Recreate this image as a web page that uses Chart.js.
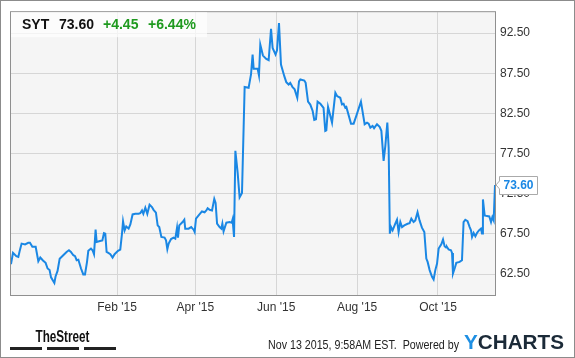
<!DOCTYPE html>
<html>
<head>
<meta charset="utf-8">
<script src="https://cdn.jsdelivr.net/npm/chart.js@4.4.1/dist/chart.umd.min.js"></script>
<style>
    html, body { margin: 0; padding: 0; background: #fff; }
    #wrap { width: 575px; height: 358px; }
</style>
</head>
<body>
<div id="wrap"><canvas id="chart" width="575" height="358"></canvas></div>
<script>
/* ============================
   Datos (días desde 13 nov 2014)
============================ */
const days = [
    0, 1.5, 4.0, 5.5, 6.5, 8.0, 10.6, 13.0, 14.3, 16.1, 18.6, 20.6, 22.1, 24.1, 26.1, 27.6, 29.1, 30.2, 32.7, 33.6,
    35.1, 36.7, 39.4, 41.9, 43.7, 45.2, 47.0, 48.3, 49.5, 50.8, 52.8, 54.5, 55.8, 57.3, 58.3, 60.3, 61.5, 62.6, 63.8, 64.6,
    67.1, 68.9, 70.1, 71.1, 72.1, 73.4, 74.9, 76.6, 78.1, 80.7, 82.4, 83.7, 84.5, 85.7, 86.9, 88.7, 90.0, 91.7, 93.7, 96.2,
    97.5, 98.8, 99.8, 101.3, 102.8, 104.5, 106.3, 107.5, 109.3, 110.6, 111.8, 113.4, 115.8, 116.9, 117.9, 118.9, 120.7, 122.6, 123.9, 125.2,
    125.9, 126.9, 129.4, 130.7, 131.4, 133.9, 135.9, 137.7, 138.5, 139.5, 141.5, 144.0, 146.0, 147.3, 148.3, 149.8, 151.6, 153.3, 154.3, 155.4,
    157.3, 158.6, 159.4, 160.3, 162.4, 164.9, 166.4, 167.1, 168.2, 169.2, 170.9, 172.4, 174.2, 176.2, 179.2, 181.0, 182.2, 183.0, 186.0, 187.0,
    188.0, 190.0, 192.5, 194.3, 196.1, 197.3, 199.5, 200.6, 202.1, 203.6, 206.1, 207.6, 209.4, 210.6, 212.2, 213.9, 215.9, 217.2, 218.2, 221.2,
    222.2, 224.0, 225.7, 227.5, 228.7, 230.0, 231.2, 233.3, 235.7, 237.0, 237.8, 239.1, 242.1, 244.6, 245.9, 248.3, 249.6, 250.8, 252.1, 252.9,
    256.4, 258.4, 260.4, 263.9, 266.7, 268.5, 269.7, 271.0, 272.7, 273.8, 276.0, 278.0, 279.3, 281.0, 282.3, 283.8, 284.8, 285.7, 286.6, 287.8,
    289.8, 291.1, 292.3, 293.6, 294.9, 296.6, 299.1, 300.6, 301.9, 303.6, 304.9, 306.6, 308.1, 309.9, 311.7, 313.2, 314.2, 315.7, 317.5, 318.7,
    320.0, 321.3, 322.5, 324.5, 325.8, 327.0, 328.1, 328.8, 330.0, 331.8, 332.6, 333.3, 334.8, 335.8, 338.3, 340.1, 341.3, 342.6, 344.3, 345.9,
    346.9, 347.7, 348.9, 350.2, 351.4, 352.9, 354.4, 355.2, 355.9, 357.2, 359.0, 360.7, 362.0, 363.0, 364.0, 365
]
const prices = [
    63.74, 65.14, 64.73, 64.64, 65.35, 66.30, 66.20, 66.40, 66.40, 65.90, 65.90, 64.10, 64.57, 64.20, 63.90, 63.20, 63.00, 62.10, 61.40, 62.20,
    62.90, 64.40, 64.85, 65.26, 65.47, 65.26, 64.85, 64.73, 64.23, 64.30, 63.20, 62.46, 62.46, 64.00, 65.40, 65.68, 65.47, 64.98, 68.03, 66.50,
    66.62, 66.70, 67.60, 67.54, 65.26, 65.14, 64.98, 64.56, 64.98, 65.40, 65.56, 67.54, 69.06, 67.95, 68.44, 68.16, 68.69, 69.93, 70.01, 70.01,
    70.09, 70.42, 70.00, 70.76, 70.00, 71.13, 70.84, 70.50, 70.14, 68.57, 68.36, 67.12, 67.04, 66.70, 65.60, 66.30, 66.87, 67.04, 66.92, 68.28,
    67.04, 68.57, 68.98, 69.27, 68.16, 68.16, 68.36, 68.03, 67.74, 69.40, 69.80, 70.30, 70.20, 70.42, 70.70, 70.50, 70.42, 71.86, 71.37, 68.78,
    68.36, 68.16, 68.78, 67.82, 68.90, 68.98, 68.90, 69.31, 67.12, 77.85, 75.17, 72.07, 72.61, 85.80, 85.70, 87.35, 89.83, 88.05, 88.05, 87.22,
    91.06, 89.70, 89.28, 89.12, 93.04, 90.64, 89.83, 90.36, 93.74, 88.59, 87.14, 86.40, 86.10, 86.30, 85.81, 85.50, 84.45, 86.50, 86.73, 86.60,
    86.31, 83.96, 83.60, 82.80, 81.70, 81.77, 83.96, 83.70, 83.20, 80.33, 80.40, 83.30, 81.36, 85.07, 84.66, 84.45, 83.63, 83.70, 83.20, 83.30,
    81.23, 81.23, 82.19, 83.96, 81.16, 81.36, 81.23, 80.73, 80.94, 80.66, 81.16, 80.82, 80.33, 76.60, 78.47, 81.36, 78.26, 67.54, 68.36, 67.95,
    68.77, 69.27, 67.74, 68.98, 68.36, 68.57, 68.77, 68.85, 69.40, 68.98, 69.19, 70.20, 69.19, 68.28, 67.74, 64.44, 64.02, 63.00, 62.17, 61.84,
    63.00, 63.82, 65.68, 66.20, 66.80, 65.97, 65.80, 65.88, 65.56, 65.47, 65.14, 62.58, 63.33, 63.90, 64.02, 64.23, 68.98, 69.27, 69.10, 68.36,
    67.95, 67.12, 67.62, 67.20, 67.62, 67.95, 68.16, 67.54, 71.79, 69.80, 69.72, 69.68, 68.98, 69.60, 69.19, 73.60
]

const tickDays = [80, 139, 200, 261, 322]
const tickLabels = ["Feb '15", "Apr '15", "Jun '15", "Aug '15", "Oct '15"]
const yTicks = [62.5, 67.5, 72.5, 77.5, 82.5, 87.5, 92.5]

const TICKER = 'SYT'
const LAST = '73.60'
const CHANGE = '+4.45'
const CHANGE_PCT = '+6.44%'
const STAMP = 'Nov 13 2015, 9:58AM EST.  Powered by'

const FONT = '"Liberation Sans", Arial, sans-serif'
const LINE_BLUE = '#1a87e4'
const UP_GREEN = '#1f9a1f'

// ============================
// Dibujos extra (fondo, marco, cabecera, pie)
// ============================
function fitText(ctx, text, x, y, width) {
    const w = ctx.measureText(text).width
    ctx.save()
    ctx.translate(x, y)
    ctx.scale(width / w, 1)
    ctx.fillText(text, 0, 0)
    ctx.restore()
}

const decorPlugin = {
    id: 'decor',
    beforeDraw(chart) {
        const { ctx, chartArea: a } = chart
        ctx.save()
        ctx.fillStyle = '#fff'
        ctx.fillRect(0, 0, chart.width, chart.height)
        ctx.fillStyle = '#f5f5f5'
        ctx.fillRect(a.left, a.top, a.right - a.left, a.bottom - a.top)
        ctx.restore()
    },
    afterDraw(chart) {
        const { ctx, chartArea: a } = chart
        ctx.save()

        // marco del área
        ctx.strokeStyle = '#8f8f8f'
        ctx.lineWidth = 1
        ctx.strokeRect(a.left - 0.5, a.top - 0.5, a.right - a.left + 1, a.bottom - a.top + 1)

        // marco exterior
        ctx.strokeStyle = '#8c8c8c'
        ctx.strokeRect(0.5, 0.5, chart.width - 1, chart.height - 1)

        // cabecera
        ctx.fillStyle = 'rgba(255,255,255,0.7)'
        ctx.fillRect(a.left, a.top, 196, 25)
        ctx.font = `bold 14px ${FONT}`
        ctx.textBaseline = 'alphabetic'
        ctx.textAlign = 'left'
        ctx.fillStyle = '#111'
        ctx.fillText(TICKER, 22, 28.5)
        ctx.fillText(LAST, 59, 28.5)
        ctx.fillStyle = UP_GREEN
        ctx.fillText(CHANGE, 103, 28.5)
        ctx.fillText(CHANGE_PCT, 148, 28.5)

        // etiqueta del último valor
        const py = chart.scales.y.getPixelForValue(prices[prices.length - 1])
        const bx = a.right + 4.5, bw = 38, bh = 18, top = Math.round(py - bh / 2) + 0.5
        ctx.beginPath()
        ctx.moveTo(a.right + 1, py)
        ctx.lineTo(bx, py - 4)
        ctx.lineTo(bx, top)
        ctx.lineTo(bx + bw, top)
        ctx.lineTo(bx + bw, top + bh)
        ctx.lineTo(bx, top + bh)
        ctx.lineTo(bx, py + 4)
        ctx.closePath()
        ctx.fillStyle = '#fff'
        ctx.fill()
        ctx.strokeStyle = '#aaa'
        ctx.stroke()
        ctx.font = `bold 12px ${FONT}`
        ctx.fillStyle = LINE_BLUE
        ctx.textAlign = 'center'
        ctx.textBaseline = 'middle'
        ctx.fillText(LAST, bx + bw / 2, top + bh / 2 + 0.5)

        // pie: TheStreet
        ctx.textAlign = 'left'
        ctx.textBaseline = 'alphabetic'
        ctx.fillStyle = '#111'
        ctx.font = `bold 16px ${FONT}`
        fitText(ctx, 'TheStreet', 35.5, 342, 54)
        ctx.fillStyle = '#222'
        ctx.fillRect(10, 347, 32, 3)
        ctx.fillRect(47, 347, 32, 3)
        ctx.fillRect(84, 347, 32, 3)

        // pie: fecha y YCHARTS
        ctx.font = `12px ${FONT}`
        ctx.fillStyle = '#222'
        fitText(ctx, STAMP, 268, 348.5, 191)
        ctx.font = `900 20px ${FONT}`
        const yW = ctx.measureText('Y').width
        const allW = ctx.measureText('YCHARTS').width
        ctx.save()
        ctx.translate(464, 349)
        ctx.scale(100 / allW, 1)
        ctx.fillStyle = '#1e8fe3'
        ctx.fillText('Y', 0, 0)
        ctx.fillStyle = '#1b2a38'
        ctx.fillText('CHARTS', yW, 0)
        ctx.restore()

        ctx.restore()
    }
}

// ============================
// Gráfico
// ============================
const ctxChart = document.getElementById('chart').getContext('2d')
new Chart(ctxChart, {
    type: 'line',
    data: {
        datasets: [{
            label: TICKER,
            data: days.map((d, i) => ({ x: d, y: prices[i] })),
            borderColor: LINE_BLUE,
            borderWidth: 2,
            pointRadius: 0,
            tension: 0,
            fill: false
        }]
    },
    options: {
        responsive: false,
        animation: false,
        devicePixelRatio: 1,
        layout: { padding: { left: 11, top: 11, right: 0, bottom: 0 } },
        plugins: { legend: { display: false }, tooltip: { enabled: false } },
        scales: {
            x: {
                type: 'linear',
                min: 0,
                max: 365,
                afterBuildTicks: s => { s.ticks = tickDays.map(v => ({ value: v })) },
                afterFit: s => { s.height = 63 },
                grid: { color: '#d6d6d6', drawTicks: false },
                border: { display: false },
                ticks: {
                    padding: 5,
                    maxRotation: 0,
                    autoSkip: false,
                    color: '#333',
                    font: { family: FONT, size: 12 },
                    callback: v => tickLabels[tickDays.indexOf(v)]
                }
            },
            y: {
                position: 'right',
                min: 59.9,
                max: 95.1,
                afterBuildTicks: s => { s.ticks = yTicks.map(v => ({ value: v })) },
                afterFit: s => { s.width = 80 },
                grid: { color: '#d6d6d6', drawTicks: false },
                border: { display: false },
                ticks: {
                    padding: 5,
                    color: '#333',
                    font: { family: FONT, size: 12 },
                    callback: v => v.toFixed(2)
                }
            }
        }
    },
    plugins: [decorPlugin]
})
</script>
</body>
</html>
